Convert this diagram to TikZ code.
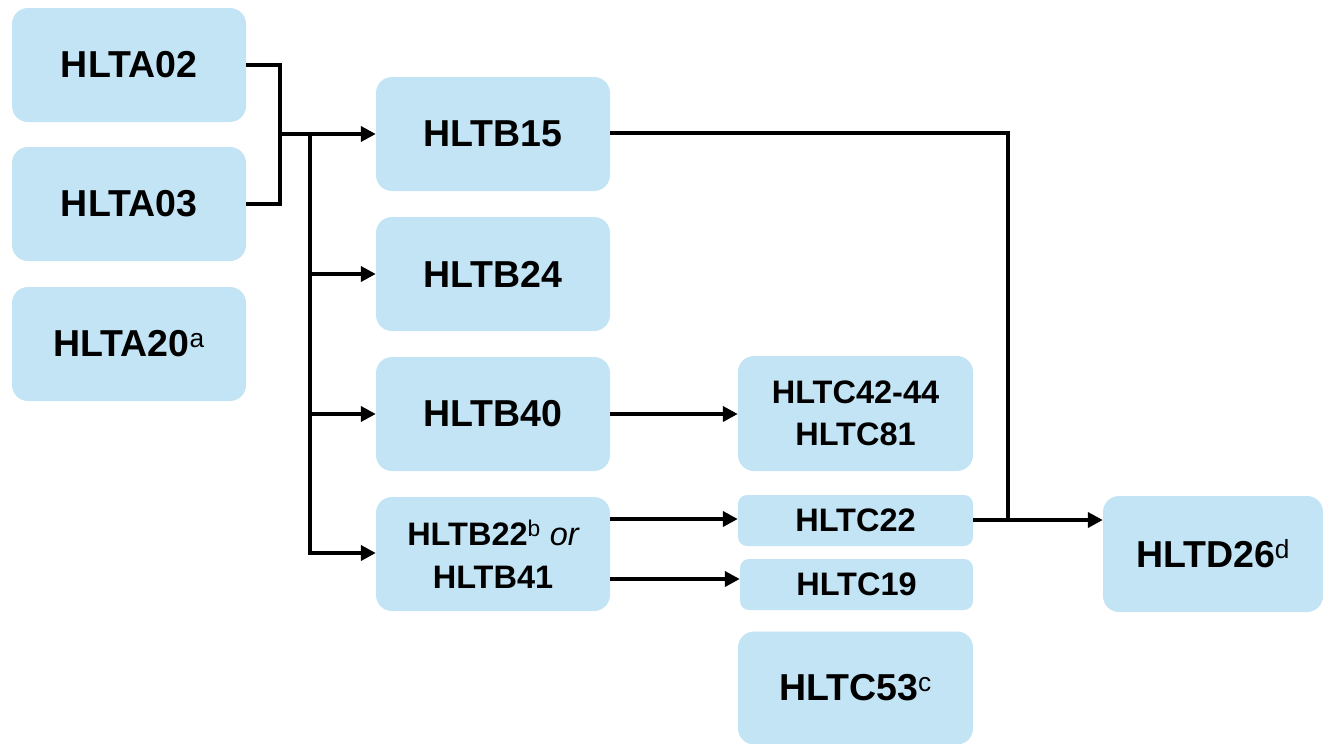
\documentclass[tikz,border=0pt]{standalone}
\usepackage{fontspec}
\setmainfont{Liberation Sans}
\usetikzlibrary{arrows.meta}
\definecolor{boxblue}{HTML}{C2E4F4}
\tikzset{
  box/.style={rectangle, rounded corners=16pt, fill=boxblue, draw=none, inner sep=0pt, align=center, font=\bfseries\fontsize{37.5}{44}\selectfont},
  sbox/.style={box, font=\bfseries\fontsize{32.5}{42.5}\selectfont},
  conn/.style={line width=4.5pt, -{Triangle[length=15pt,width=15pt]}},
  line/.style={line width=4.5pt},
}
\newcommand{\supx}[1]{\textsuperscript{\normalfont #1}}
\begin{document}
\begin{tikzpicture}[x=1pt,y=-1pt]
\useasboundingbox (0,0) rectangle (1323,744);
% column A
\node[box, minimum width=234pt, minimum height=114pt] (a02) at (129,65) {HLTA02};
\node[box, minimum width=234pt, minimum height=114pt] (a03) at (129,204) {HLTA03};
\node[box, minimum width=234pt, minimum height=114pt] (a20) at (129,344) {HLTA20\supx{a}};
% column B
\node[box, minimum width=234pt, minimum height=114pt] (b15) at (493,134) {HLTB15};
\node[box, minimum width=234pt, minimum height=114pt] (b24) at (493,274) {HLTB24};
\node[box, minimum width=234pt, minimum height=114pt] (b40) at (493,414) {HLTB40};
\node[sbox, minimum width=234pt, minimum height=114pt] (b22) at (493,554) {HLTB22\supx{b} {\normalfont\itshape or}\\HLTB41};
% column C
\node[sbox, minimum width=235pt, minimum height=115pt] (c42) at (855.5,413.5) {HLTC42-44\\HLTC81};
\node[sbox, minimum width=235pt, minimum height=51pt, rounded corners=9pt] (c22) at (855.5,520.5) {HLTC22};
\node[sbox, minimum width=233pt, minimum height=51pt, rounded corners=9pt] (c19) at (856.5,584.5) {HLTC19};
\node[box, minimum width=235pt, minimum height=113pt] (c53) at (855.5,688) {HLTC53\supx{c}};
% column D
\node[box, minimum width=220pt, minimum height=116pt] (d26) at (1213,554) {HLTD26\supx{d}};
% connectors
\coordinate (j1) at (280,134);
\coordinate (j2) at (310,134);
\coordinate (j3) at (1008,520);
\draw[line] (a02.east |- 0,65) -| (j1);
\draw[line] (a03.east |- 0,204) -| (j1);
\draw[conn] (j1) -- (b15.west |- j1);
\draw[line] (j2) -- (310,553);
\draw[conn] (310,274) -- (b24.west |- 0,274);
\draw[conn] (310,414) -- (b40.west |- 0,414);
\draw[conn] (308,553) -- (b22.west |- 0,553);
\draw[conn] (b40.east |- 0,414) -- (c42.west |- 0,414);
\draw[conn] (b22.east |- 0,519) -- (c22.west |- 0,519);
\draw[conn] (b22.east |- 0,579) -- (c19.west |- 0,579);
\draw[line] (b15.east |- 0,133) -| (j3);
\draw[conn] (c22.east |- 0,520) -- (d26.west |- 0,520);
\end{tikzpicture}
\end{document}
